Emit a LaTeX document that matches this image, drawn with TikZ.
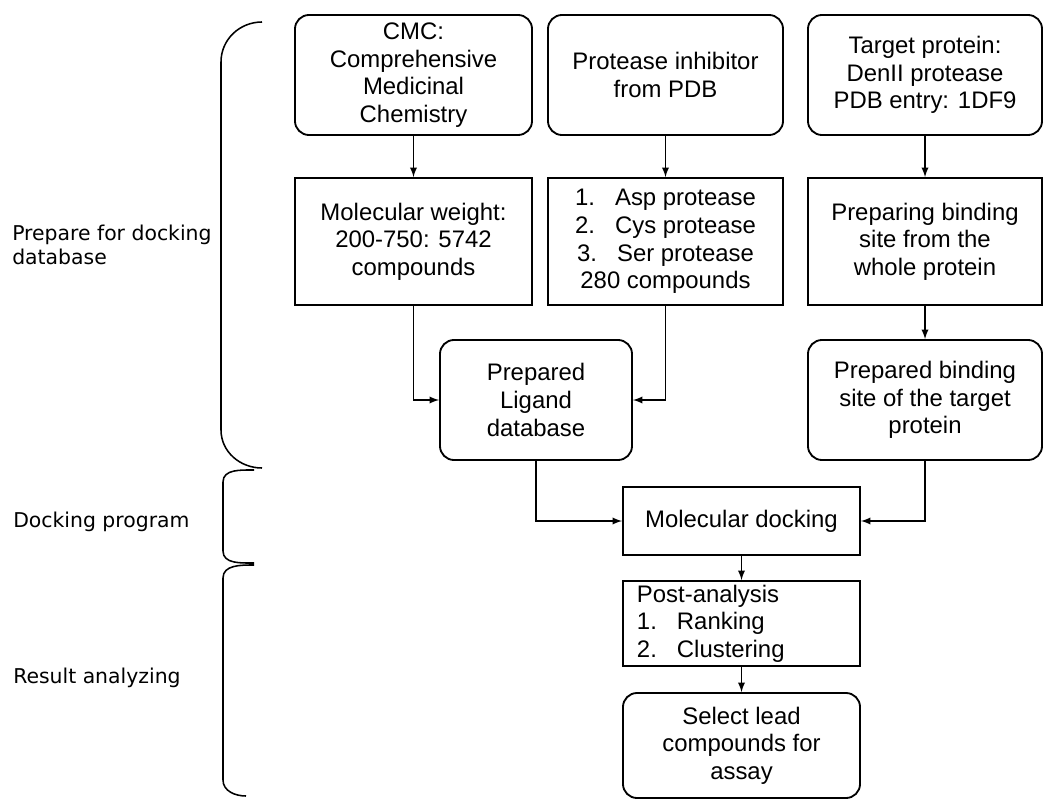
\documentclass[tikz,border=0pt]{standalone}
\usepackage{fontspec}
\setmainfont{Liberation Sans}
\newfontfamily\labelfont{DejaVu Sans}
\usetikzlibrary{arrows}

\begin{document}
\begin{tikzpicture}[x=0.025cm, y=-0.025cm]

  % Styles
  \tikzstyle{flux} = [->, >=latex, line width=1.3pt]
  \tikzstyle{boite} = [draw, line width=1.3pt, align=center, inner sep=2pt, font=\fontsize{17}{19.6}\selectfont]
  \tikzstyle{boiteronde} = [boite, rounded corners=10pt]
  \tikzstyle{accolade} = [line width=1.1pt]
  \tikzstyle{etape} = [anchor=west, align=left, inner sep=0pt, font=\labelfont\fontsize{14.5}{17}\selectfont]

  % Cadre
  \useasboundingbox (0,0) rectangle (1045,800);

  % Sources
  \draw (413.5,75) node[boiteronde, minimum width=5.925cm, minimum height=3cm] (cmc) {CMC:\\Comprehensive\\Medicinal\\Chemistry};
  \draw (665.5,75) node[boiteronde, minimum width=5.875cm, minimum height=3cm] (inhib) {Protease inhibitor\\from PDB};
  \draw (925,75) node[boiteronde, minimum width=5.85cm, minimum height=3cm] (cible) {Target protein:\\DenII protease\\PDB entry: 1DF9};

  % Filtres
  \draw (413.5,241.5) node[boite, minimum width=5.925cm, minimum height=3.175cm] (masse) {Molecular weight:\\200-750: 5742\\compounds};
  \draw (665.5,241.5) node[boite, minimum width=5.875cm, minimum height=3.175cm] (classes) {\makebox[1cm][l]{1.}Asp protease\\\makebox[1cm][l]{2.}Cys protease\\\makebox[1cm][l]{3.}Ser protease\\280 compounds};
  \draw (925,241.5) node[boite, minimum width=5.85cm, minimum height=3.175cm] (prepsite) {Preparing binding\\site from the\\whole protein};

  % Bases preparees
  \draw (536,400) node[boiteronde, minimum width=4.8cm, minimum height=3cm] (ligand) {Prepared\\Ligand\\database};
  \draw (925,400) node[boiteronde, minimum width=5.85cm, minimum height=3cm] (site) {Prepared binding\\site of the target\\protein};

  % Docking et analyse
  \draw (741.5,521) node[boite, minimum width=5.925cm, minimum height=1.7cm] (docking) {Molecular docking};
  \draw (741.5,623.5) node[boite, text width=5.225cm, inner xsep=0.35cm, inner ysep=0pt, minimum height=2.125cm, align=left] (analyse) {Post-analysis\\\makebox[1cm][l]{1.}Ranking\\\makebox[1cm][l]{2.}Clustering};
  \draw (741.5,745.5) node[boiteronde, minimum width=5.925cm, minimum height=2.625cm] (selection) {Select lead\\compounds for\\assay};

  % Fleches
  \draw[flux] (cmc) -- (masse);
  \draw[flux] (inhib) -- (classes);
  \draw[flux] (cible) -- (prepsite);
  \draw[flux] (prepsite) -- (site);
  \draw[flux] (masse.south) |- (ligand.west);
  \draw[flux] (classes.south) |- (ligand.east);
  \draw[flux] (ligand.south) |- (docking.west);
  \draw[flux] (site.south) |- (docking.east);
  \draw[flux] (docking) -- (analyse);
  \draw[flux] (analyse) -- (selection);

  % Accolades
  \draw[accolade] (262,22) to[out=180,in=90] (221,62) -- (221,430) to[out=-90,in=180] (262,468);
  \draw[accolade] (254,470) to[out=180,in=90] (223,482) -- (223,551) to[out=-90,in=180] (254,563);
  \draw[accolade] (254,565) to[out=180,in=90] (223,578) -- (223,780) to[out=-90,in=180] (246,796);

  % Etapes
  \node[etape] (preparation) at (12,245) {Prepare for docking\\database};
  \node[etape] (programme) at (13,522) {Docking program};
  \node[etape] (resultat) at (13,678) {Result analyzing};

\end{tikzpicture}
\end{document}
